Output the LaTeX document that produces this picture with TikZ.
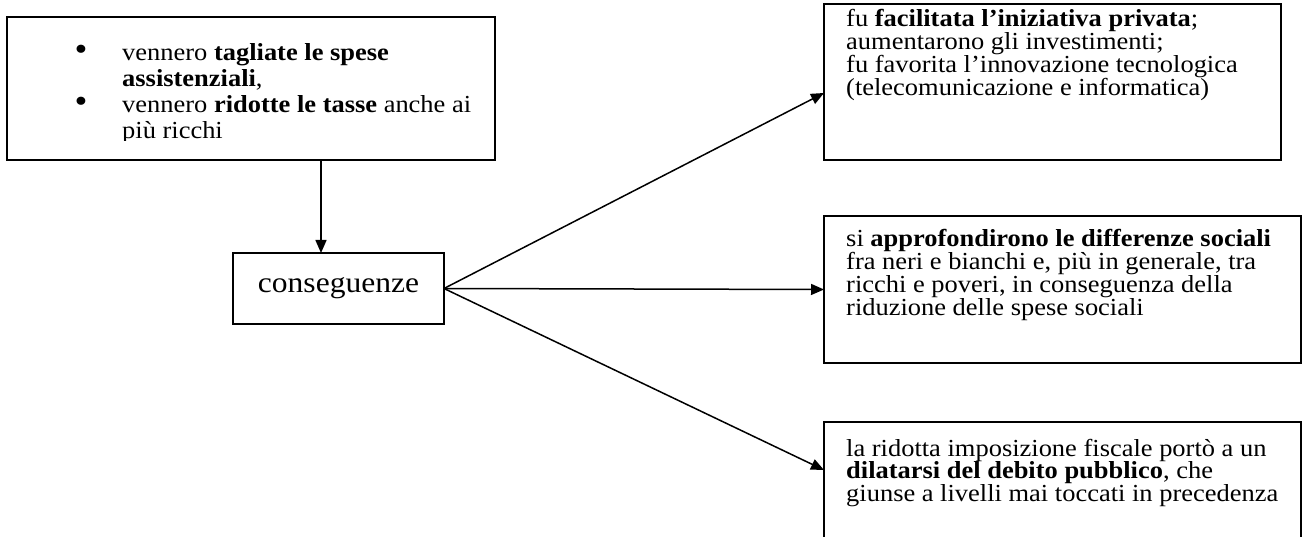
\documentclass[tikz,border=0pt]{standalone}
\usepackage{fontspec}
\setmainfont{Liberation Serif}[FakeStretch=1.08]
\usetikzlibrary{arrows.meta}
\begin{document}
\begin{tikzpicture}[x=1pt,y=-1pt,
  box/.style={draw, line width=1.6pt, inner sep=0pt, outer sep=0pt, anchor=north west},
  txt/.style={anchor=base west, inner sep=0pt, font=\fontsize{24.5}{22.7}\selectfont},
  txtA/.style={anchor=base west, inner sep=0pt, font=\fontsize{24.5}{26}\selectfont},
  bul/.style={anchor=base, inner sep=0pt, font=\fontsize{34}{26}\selectfont},
  arr/.style={line width=1.5pt, -{Triangle[length=13pt,width=11pt]}}]
\useasboundingbox (0,0) rectangle (1306,537);
\clip (0,0) rectangle (1306,537);
% boxes
\node[box, minimum width=488pt, minimum height=143pt] (b1) at (7,17) {};
\node[box, minimum width=211pt, minimum height=71pt] (cons) at (233,253) {};
\node[font=\fontsize{29.2}{30}\selectfont, inner sep=0pt] (ctext) at (cons.center) {conseguenze};
\node[box, minimum width=457pt, minimum height=156pt] (b2) at (824,4) {};
\node[box, minimum width=477pt, minimum height=147pt] (b3) at (824,216) {};
\node[box, minimum width=477pt, minimum height=160pt] (b4) at (824,422) {};
% box 1 text
\begin{scope}
\clip (7,17) rectangle (495,141);
\node[bul] (u1) at (81,61) {•};
\node[txtA] (a1) at (122,61) {vennero \textbf{tagliate le spese}};
\node[txtA] (a2) at (122,87) {\textbf{assistenziali},};
\node[bul] (u2) at (81,113) {•};
\node[txtA] (a3) at (122,113) {vennero \textbf{ridotte le tasse} anche ai};
\node[txtA] (a4) at (122,139) {più ricchi};
\end{scope}
% box 2 text
\node[txt] (c1) at (846,27) {fu \textbf{facilitata l’iniziativa privata};};
\node[txt] (c2) at (846,49.7) {aumentarono gli investimenti;};
\node[txt] (c3) at (846,72.4) {fu favorita l’innovazione tecnologica};
\node[txt] (c4) at (846,95.1) {(telecomunicazione e informatica)};
% box 3 text
\node[txt] (d1) at (846,247) {si \textbf{approfondirono le differenze sociali}};
\node[txt] (d2) at (846,269.7) {fra neri e bianchi e, più in generale, tra};
\node[txt] (d3) at (846,292.4) {ricchi e poveri, in conseguenza della};
\node[txt] (d4) at (846,315.1) {riduzione delle spese sociali};
% box 4 text
\node[txt] (e1) at (846,456) {la ridotta imposizione fiscale portò a un};
\node[txt] (e2) at (846,478.7) {\textbf{dilatarsi del debito pubblico}, che};
\node[txt] (e3) at (846,501.4) {giunse a livelli mai toccati in precedenza};
% connectors
\coordinate (t2) at (b2.west |- 0,93);
\coordinate (t4) at (b4.west |- 0,470);
\draw[arr] (b1.south -| 321,0) -- (cons.north -| 321,0);
\draw[arr] (cons.east) -- (t2);
\draw[arr] (cons.east) -- (b3.west);
\draw[arr] (cons.east) -- (t4);
\end{tikzpicture}
\end{document}
